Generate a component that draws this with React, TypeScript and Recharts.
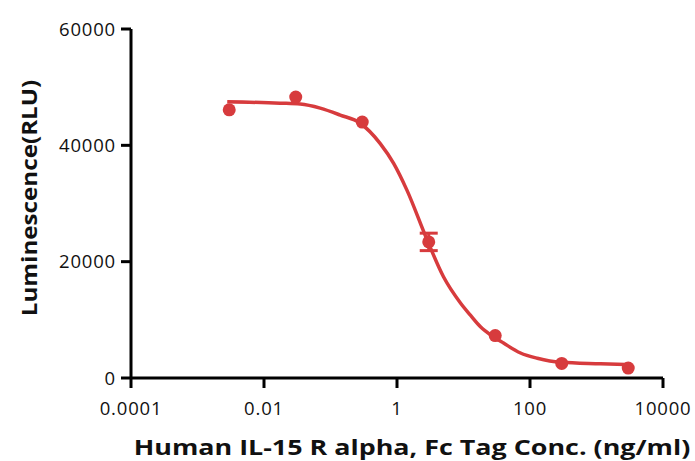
import React from 'react';
import {
  ComposedChart, Line, Scatter, ErrorBar, XAxis, YAxis,
} from 'recharts';

const RED = '#D73B3D';

// measured points (ng/ml, RLU)
const concs = [0.003, 0.03, 0.3, 3, 30, 300, 3000];
const lum = [46100, 48300, 44000, 23400, 7300, 2500, 1700];
const lumErr = [null, null, null, 1500, null, null, null];

// fitted curve
const curveX = [0.0028, 0.0175, 0.035, 0.07, 0.14, 0.28, 0.56, 0.89, 1.41, 2.8, 5, 9, 12.7, 18, 28, 40, 72, 129, 290, 1150, 3000];
const curveY = [47500, 47250, 47100, 46400, 45200, 43800, 40300, 36900, 32300, 23900, 17400, 12900, 10800, 8800, 7100, 6000, 4300, 3400, 2700, 2450, 2300];

const xTicks = [0.0001, 0.01, 1, 100, 10000];
const yTicks = [0, 20000, 40000, 60000];

const points = concs.map((x, i) => ({ x, y: lum[i], err: lumErr[i] }));
const curve = curveX.map((x, i) => ({ x, y: curveY[i] }));

const FONT = '"Open Sans", "Noto Sans", sans-serif';

const Dot = (props: { cx?: number; cy?: number }) => (
  <circle cx={props.cx} cy={props.cy} r={6.5} fill={RED} />
);

export default function App() {
  return (
    <div style={{ position: 'absolute', left: 0, top: 0, width: 695, height: 461, background: '#fff' }}>
      <ComposedChart
        width={695}
        height={461}
        margin={{ top: 29, right: 32, bottom: 0, left: 0 }}
      >
        <XAxis
          dataKey="x"
          type="number"
          scale="log"
          domain={[0.0001, 10000]}
          ticks={xTicks}
          allowDataOverflow
          tickFormatter={(v: number) => String(v)}
          height={83}
          stroke="#000"
          strokeWidth={3}
          tickSize={10}
          tickMargin={14}
          tick={{ fill: '#111', fontSize: 18.5, fontFamily: FONT, letterSpacing: 0.8 }}
        />
        <YAxis
          dataKey="y"
          type="number"
          domain={[0, 60000]}
          ticks={yTicks}
          width={131}
          stroke="#000"
          strokeWidth={3}
          tickSize={10}
          tickMargin={5}
          tick={{ fill: '#111', fontSize: 18.5, fontFamily: FONT, letterSpacing: 0.8 }}
        />
        <Line
          data={curve}
          dataKey="y"
          type="monotone"
          stroke={RED}
          strokeWidth={3.5}
          dot={false}
          activeDot={false}
          isAnimationActive={false}
        />
        <Scatter data={points} dataKey="y" fill={RED} shape={<Dot />} isAnimationActive={false}>
          <ErrorBar dataKey="err" direction="y" width={9} stroke={RED} strokeWidth={3} />
        </Scatter>
        <text
          transform="translate(37 198) rotate(-90) scale(1.1 1)"
          textAnchor="middle"
          fontFamily={FONT}
          fontWeight="bold"
          fontSize={22}
          fill="#111"
        >
          Luminescence(RLU)
        </text>
        <text
          transform="translate(412 455) scale(1.25 1)"
          textAnchor="middle"
          fontFamily={FONT}
          fontWeight="bold"
          fontSize={21.5}
          fill="#111"
        >
          Human IL-15 R alpha, Fc Tag Conc. (ng/ml)
        </text>
      </ComposedChart>
    </div>
  );
}
